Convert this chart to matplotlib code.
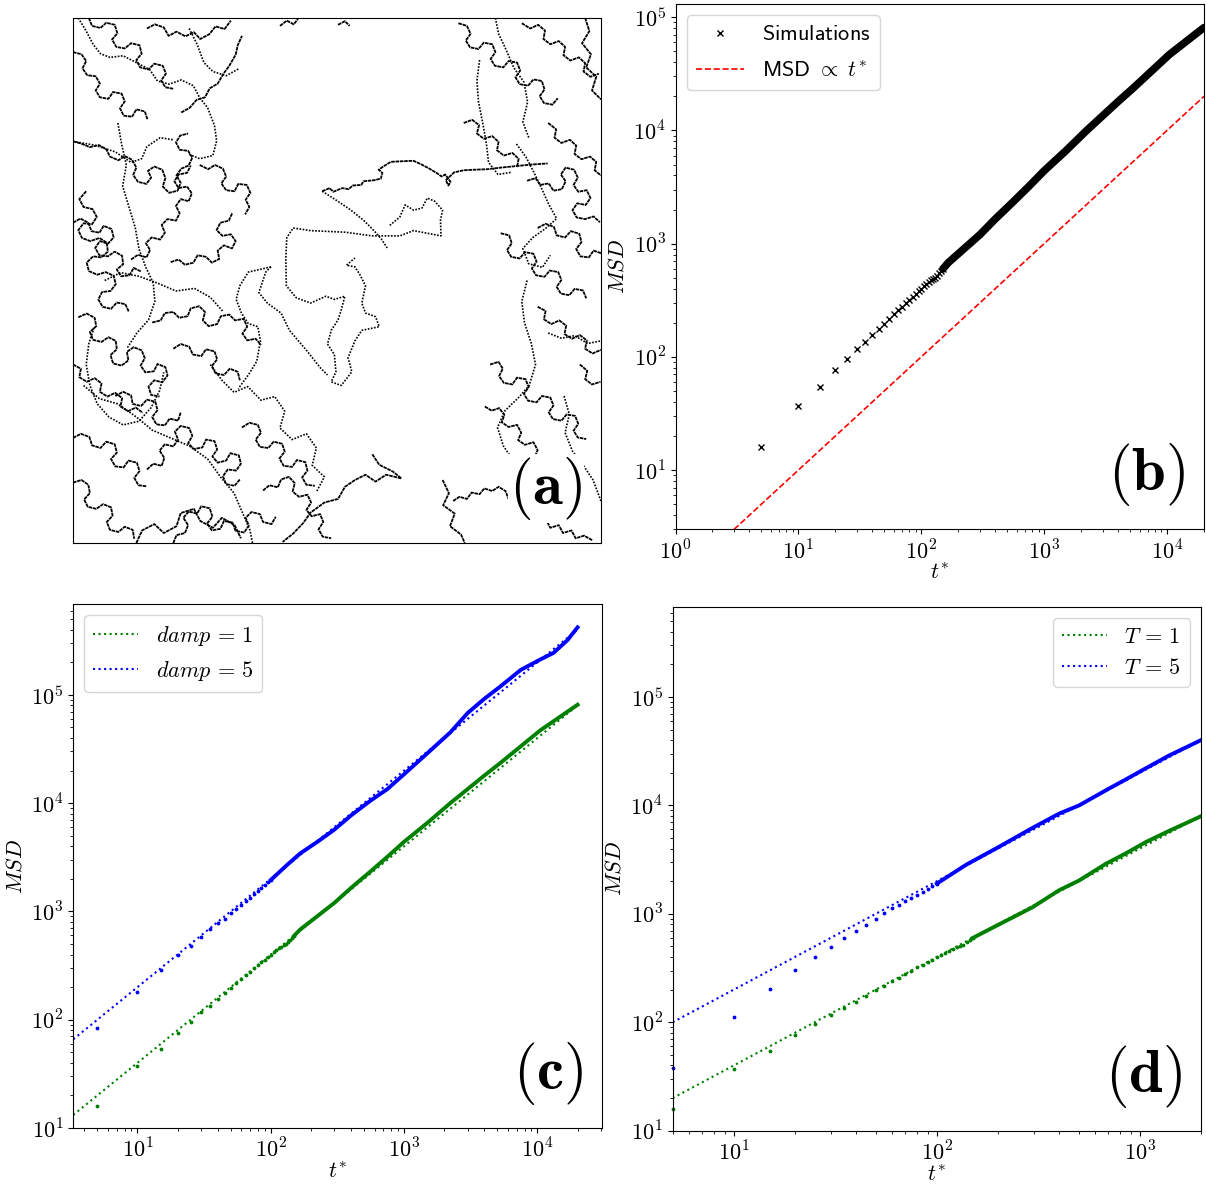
import numpy as np
import matplotlib
matplotlib.use('Agg')
import matplotlib.pyplot as plt
from matplotlib.ticker import FuncFormatter, NullFormatter

plt.rcParams['mathtext.fontset'] = 'cm'

# --- (a) particle trajectories, box units 0..100, y measured from the top ----
# long, smooth stretches (drawn dotted)
smooth_paths = [
    "47.2 33.0 50 34.8 52.5 36.5 55 38.5 57 40.5 58.4 42.1 59.5 43.8",
    "60 39.5 61.9 37.9 62.9 35.6 64.5 36.6 66.1 36.2 67.1 34.3 68.5 34.9 70 36.6 69.6 38.5 "
    "69.7 41.5 67.1 41.0 64.5 40.5 61.9 41.5 56.7 41.5 51.5 40.8 45 40.5 41.7 40.0 40.5 41.8 "
    "40.3 45.7 40.4 51 42.3 53.3 45 54.3 47.9 53 49.5 53.6 51.5 53 50.8 55.6 50.2 57.5 48.9 59.5 "
    "48.2 62.1 49.5 64.1 49.8 67.4 48.9 69.3 50.8 70 52.8 67.4 52.1 64.7 53.4 61.5 54.7 59.5 "
    "58 58.8 57.3 56.9 55.4 56.2 54.7 54.3 55.4 51 54.4 49 53.4 47.4 51.8 47.1 53.4 45.7",
    "37.5 47.4 33.2 48.4 31.6 51 30.9 53.6 31.9 56.2 33.2 58.2 35 58.8 35.5 61.5 34.8 65.4 "
    "33.2 68 31.3 70.6",
    "37.5 47.4 36.5 48.4 35.2 52.3 36.8 54.3 39.4 56.2 41 59.5 44.3 63.4 46.9 66.7 48.2 68",
    "1 0 2.5 2.5 3.8 5 5.2 6.8 7 7.5 9.5 7.2 12 8.5 14.5 9.8 16 12 18.2 12.6 20.5 11.8 22.8 12.9 "
    "24 15.2 25.5 17.1 26.8 20.5 27.2 23.4 26.5 26.2 24 26.8 21.8 25.9",
    "8.5 20 9.2 24 10.1 28 9.4 32 10.6 36 11.8 40 12.5 44 13.8 47.5 15.2 50.5 15.5 54 "
    "14.3 57.5 12.1 60 10.3 62.8",
    "4 59 3 62 2.5 66 3.2 70 4.6 73.5 6.8 76 9.5 77.5 12.5 76.8 14.8 74.2 16.4 71 17.2 67.5",
    "2 70 5 72.5 8.5 73.5 12 76 15 78.5 18.5 80 22 81.5 25.5 84 28 87.5 30.5 90.5 32 94 "
    "33.5 97.5 34 100",
    "77 8 76.5 12 76.8 16 77.6 20 78.3 24 78.7 27.5 80.5 29.8 83 29.4",
    "86 50 85 54 85.5 58 86.8 62 87.6 66 86.4 70 84.2 72.5 81.8 74.8 80.4 78 81.5 81.5 83.2 84",
    "84 24 85.8 26.5 87.3 29.4 88.9 32.8 90.1 35.5 91.6 38.2 89.5 40.1 87.1 41.8 85.2 43.9 "
    "86.3 46.8 88.9 47.5 90.4 45.2",
    "90 60 92.5 61 95 60.5 97.5 62 100 61.5",
    "93 72 94 75.5 93.2 79 94.6 82.5 96.5 85 98.5 88 100 92",
    "22 2 23.5 5 24.8 8.5 26.5 10.2 29 11 31.5 9.6",
    "0 23.5 4 24.2 8 25.5 11 27.5 13 26.8 14 24.5 16.5 22.8 19 23.2",
    "26 66 28.2 69 30.5 71.3 33.1 70.2 35.6 72.8 38.2 72.1 40.1 74.9 39.2 78.1 41.5 80.3 "
    "44.2 79.2 46.1 81.9 45.3 85.2 47.6 87.4 46.2 90.1",
    "80 0 80.6 3 82 6 83.5 9.5 85.4 12.2 86.1 16 85.2 19.8 86.4 23",
    "6 50 9 48.5 12.5 49.2 16 50.5 19.5 52 23 51.5 26 53.2 28.5 56",
]
# knotted, jittery stretches (drawn nearly solid)
knotted_paths = [
    "47.2 33.0 48.6 32.4 49.3 33.1 51 32.4 52.2 32.6 53 31.9 54.6 31.8 55 31.1 57 30.9 58.3 30.6 "
    "58.6 29.5 57.9 28.9 58.9 28.2 60.2 27.4 62 27.3 64.5 27.2 66 27.9 67.5 28.7 69 29.6 69.8 30.2 "
    "70.5 29.8 71.5 31.2 71.1 31.9 70.6 30.9 72.2 29.4 74 29.0 76 28.9 78.5 28.8 81 28.5 "
    "84 28.2 87 27.9 89.9 27.7",
    "56.7 83.1 58 85.1 60.6 86.4 62.2 87.7 59.3 87 57.3 88.3 55.4 87 53.4 88 51.5 89.3 50.2 91.6 "
    "47.6 92.3 45 94.2 43.6 96.2 41.7 98.2 39.7 99.8",
    "39.2 1.5 40.5 0.5 41.8 1.2 42.6 0.2",
    "50.2 1.3 51.5 0.6 52.4 1.5",
    # top-left
    "3 0 3.6 1.5 5.2 1.9 6.3 0.9 7.9 1.3 8.4 2.9 7.4 4.1 8.2 5.5 9.8 5.8 11.0 4.8 12.6 5.2 "
    "13.0 6.8 12.0 8.0 12.7 9.4 14.3 9.8 15.4 8.7 17.0 9.1 17.6 10.6 16.7 11.9 17.5 13.2 19.1 13.5",
    "0 6.5 1.6 6.9 2.5 8.2 1.8 9.6 2.7 10.9 4.3 11.1 5.1 12.5 4.3 13.8 5.1 15.1 6.7 15.4 "
    "7.6 14.1 9.2 14.4 9.8 15.9 8.9 17.2 9.6 18.6 11.2 18.8 12.0 17.4 13.6 17.8 14.1 19.3",
    "14 2 15.5 1.2 17.2 1.8 18.1 3.4 19.6 2.6 21.3 3.5 22.9 2.7 24.1 4.0 25.8 3.1 27.0 1.6 "
    "28.7 2.1 29.9 0.5",
    "20.5 18 22.1 17.1 23.4 15.6 25.0 15.1 25.9 13.4 27.4 12.5 28.5 10.6 29.6 9.1 30.8 7.0 "
    "31.2 5.2 32.0 3.4",
    # left strip
    "0 23.5 1.5 23.9 3.2 24.6 4.9 24.2 6.3 25.0 7.0 26.4 8.6 27.1 9.8 26.3 11.2 27.0 12.0 28.5 "
    "11.4 29.9 12.3 31.2 13.9 31.6 14.8 30.4 14.2 29.1 15.4 28.3 16.9 28.9 17.5 30.5 17.0 32.1 "
    "18.2 33.3 19.8 32.9 20.4 31.4 19.6 30.0 20.5 28.7 21.9 28.1 22.6 26.6 21.8 25.3 20.2 25.1 "
    "19.5 23.7 20.3 22.4 21.8 22.0",
    "2.5 33 1.2 34.5 2.0 36.0 3.7 36.4 4.5 37.9 3.6 39.3 2.0 39.1 1.0 40.4 1.7 41.9 3.3 42.5 "
    "5.0 41.9 6.4 42.8 6.6 44.5 5.4 45.6 3.8 45.4 2.6 46.6 3.0 48.2 4.6 48.9 6.2 48.4 7.7 49.1 "
    "8.1 50.7 7.1 52.0 5.5 52.2 4.8 53.6 5.6 55.0 7.2 55.4 8.3 54.2 9.9 54.5 10.6 56.0",
    "0 39 1.4 38.2 2.9 39.0 3.5 40.6 5.0 40.9 5.8 39.6 7.3 40.2 7.7 41.8 6.6 43.0 5.1 42.5 "
    "4.2 43.8 5.0 45.2 6.6 45.4 7.9 44.5 9.3 45.3 9.5 46.9 8.3 47.9 9.1 49.2 10.7 49.0 "
    "11.5 47.6 12.9 48.3",
    "11 46 12.3 45.1 13.9 45.6 14.6 44.2 13.8 42.9 14.9 41.8 16.5 42.2 17.4 40.9 16.8 39.4 "
    "17.9 38.3 19.5 38.6 20.2 37.2 19.5 35.8 20.4 34.5 21.9 34.9 22.5 33.4 21.6 32.1 20.0 32.4 "
    "19.2 31.1 20.0 29.8 21.6 29.5 22.3 28.1",
    "18.5 46.5 20.0 46.0 21.2 47.0 22.8 46.6 23.6 45.2 25.2 45.5 26.3 46.6 27.7 45.9 27.4 44.3 "
    "28.6 43.3 30.1 43.9 30.8 42.5 29.9 41.2 28.3 41.5 27.2 40.4 27.9 39.0 29.5 38.6 30.2 37.1",
    "24 28 25.6 28.8 26.9 28.0 28.4 28.7 29.0 30.2 28.1 31.5 29.0 32.8 30.6 33.0 31.3 31.6 "
    "32.9 31.8 33.6 33.3 32.7 34.6 33.4 36.0 32.6 37.4",
    "1 57 2.6 56.3 4.1 57.1 4.4 58.7 3.2 59.8 3.8 61.3 5.4 61.7 6.7 60.8 8.1 61.5 8.3 63.1 "
    "7.1 64.2 7.6 65.8 9.2 66.2 10.5 65.2 10.2 63.6 11.5 62.7 13.0 63.3 13.6 64.8 12.8 66.2 "
    "13.7 67.5 15.3 67.3 16.0 65.9 17.5 66.5 17.9 68.1 16.9 69.4 15.4 69.0 14.3 70.2 14.8 71.8 "
    "16.4 72.1",
    "15 58 16.6 57.6 17.4 56.2 19.0 56.0 20.1 57.1 21.7 56.8 22.3 55.3 23.9 54.9 25.0 56.0 "
    "24.6 57.6 25.7 58.7 27.3 58.3 28.0 56.8 29.6 56.5 30.7 57.6 32.3 57.3 33.0 58.8 32.1 60.1 "
    "33.0 61.4 34.6 61.1 35.6 62.3",
    "0 66 1.5 66.8 1.2 68.4 2.6 69.3 4.1 68.6 5.4 69.6 5.1 71.2 6.5 72.1 8.0 71.4 9.3 72.4 "
    "9.0 74.0 10.4 74.9 11.9 74.2 13.2 75.2",
    "19 63 20.4 62.1 22.0 62.6 22.7 64.1 24.3 64.4 25.2 63.1 26.8 63.5 27.3 65.0 26.3 66.3 "
    "27.0 67.7 28.6 68.0 29.7 66.8 31.2 67.4 31.6 69.0",
    # bottom-left
    "14 86 15.2 84.9 16.8 85.3 17.3 83.8 16.4 82.4 17.4 81.2 19.0 81.6 19.9 80.3 19.3 78.8 "
    "20.4 77.7 22.0 78.1 22.6 79.6 21.8 81.0 22.9 82.1 24.5 81.8 25.2 80.3 26.8 80.6 27.3 82.2 "
    "26.4 83.5 27.4 84.7 29.0 84.3 29.8 82.9 31.4 83.3 31.8 84.9 30.9 86.2 29.3 86.0 28.4 87.3 "
    "29.0 88.8 30.6 89.1 31.6 87.9",
    "19 100 19.6 98.5 21.2 98.1 21.8 96.6 20.9 95.2 21.9 94.0 23.5 94.4 24.3 93.0 25.9 93.4 "
    "26.4 95.0 25.4 96.3 26.3 97.6 27.9 97.3 28.6 95.8 30.2 96.1 30.8 97.7 32.4 98.0 33.3 96.7 "
    "32.7 95.2 33.8 94.1 35.4 94.5 36.0 96.0 37.6 96.4 38.4 95.0",
    "0 88.5 1.6 88.0 2.9 88.9 3.2 90.5 2.1 91.7 2.8 93.1 4.4 93.5 5.7 92.6 7.2 93.2 7.5 94.8 "
    "6.4 96.0 7.0 97.5 8.6 97.9 9.8 96.9 11.3 97.5 11.6 99.2",
    "0 80 1.5 79.2 3.1 79.8 3.6 81.4 5.2 81.9 6.3 80.7 7.9 81.2 8.3 82.8 7.2 84.0 8.0 85.4 "
    "9.6 85.6 10.5 84.3 12.1 84.7 12.6 86.3 11.6 87.6 12.4 89.0 14.0 89.2",
    "8 72 9.5 71.2 11.0 71.9 11.3 73.5 12.9 73.9 14.0 72.7 15.6 73.1 16.0 74.7 15.0 76.0 "
    "15.8 77.4 17.4 77.6 18.3 76.3 19.9 76.7 20.4 75.1",
    "32 78 33.4 77.1 35.0 77.5 35.6 79.0 34.6 80.3 35.4 81.7 37.0 81.9 38.0 80.7 39.6 81.1 "
    "40.1 82.6 39.1 83.9 39.9 85.3 41.5 85.5 42.4 84.2 44.0 84.6 44.4 86.2 43.4 87.5 44.2 88.9 "
    "45.8 89.1",
    "36 90 37.2 89.0 38.8 89.4 39.4 87.9 40.9 87.4 42.0 88.6 41.6 90.2 42.8 91.2 44.4 90.8 "
    "45.1 92.3 44.2 93.7 45.2 94.9 46.8 94.5 47.4 96.0 46.5 97.4 47.3 98.8 48.9 99.1",
    "12 100 13.1 97.6 15.4 96.4 17.2 98.1 19.6 96.8 20.4 94.3 22.9 93.5 24.1 95.8 26.5 97.1 "
    "28.2 95.2 30.6 96.6 31.8 99.1",
    # right strip
    "73 1 74.6 1.5 75.3 3.0 74.4 4.3 75.2 5.6 76.8 5.9 77.8 4.7 79.4 5.0 80.0 6.5 79.1 7.8 "
    "79.9 9.1 81.5 9.4 82.5 8.2 84.1 8.5 84.7 10.0 83.8 11.3 84.6 12.6 86.2 12.9 87.2 11.7 "
    "88.8 12.0 89.3 13.6 88.4 14.9 89.2 16.2 90.8 16.5 91.8 15.3",
    "85 1 86.6 2.0 88.1 1.3 89.4 2.4 89.1 4.0 90.4 5.0 92.0 4.4 93.2 5.5 92.9 7.1 94.2 8.1 "
    "95.8 7.5 97.0 8.6 96.7 10.2 98.0 11.2 99.6 10.6",
    "97 0 97.8 2.5 96.4 4.8 98.1 6.9 97.2 9.4 99.1 11.2 98.3 13.8 100 15.5",
    "74 20 75.6 19.4 76.9 20.4 76.5 22.0 77.8 23.0 79.4 22.5 80.6 23.6 80.3 25.2 81.6 26.2 "
    "83.2 25.7 84.4 26.8 84.1 28.4",
    "86 31 87.6 30.5 88.5 31.8 90.1 31.5 91.0 32.9 92.6 32.6 93.3 31.1 92.4 29.8 93.3 28.5 "
    "94.9 28.9 95.6 30.4 94.8 31.8 95.7 33.1 97.3 32.8 98.0 34.3 97.1 35.6 95.5 35.3 94.6 36.6 "
    "95.4 38.0 97.0 38.3 98.6 37.8 99.8 38.9",
    "90 20 91.5 21.2 91.2 22.8 92.5 23.8 94.1 23.2 95.3 24.3 95.0 25.9 96.3 26.9 97.9 26.4 "
    "99.1 27.4 98.8 29.0 100 30",
    "81 41 82.6 41.4 83.1 42.9 82.2 44.2 83.0 45.5 84.6 45.8 85.6 44.6 87.2 44.9 87.8 46.4 "
    "86.9 47.7 87.7 49.0 89.3 49.3 90.3 48.1 91.9 48.4 92.5 49.9 91.6 51.2 92.4 52.5 94.0 52.8 "
    "95.0 51.6 96.6 51.9 97.2 53.4",
    "88 40 89.5 39.2 91.1 39.8 91.6 41.4 93.2 41.8 94.3 40.6 95.9 41.1 96.3 42.7 95.3 44.0 "
    "96.1 45.4 97.7 45.6 98.6 44.3 100 44.8",
    "79 66 80.6 65.5 81.4 66.8 80.7 68.2 81.6 69.5 83.2 69.8 84.1 68.5 85.7 68.8 86.3 70.3 "
    "85.4 71.6 86.2 72.9 87.8 73.2 88.8 72.0 90.4 72.3 91.0 73.8 90.1 75.1 90.9 76.4 92.5 76.7 "
    "93.5 75.5 95.1 75.8 95.7 77.3 94.8 78.6 95.6 79.9 97.2 80.2",
    "88 55 89.5 55.8 89.2 57.4 90.6 58.3 92.1 57.6 93.4 58.6 93.1 60.2 94.5 61.1 96.0 60.4 "
    "97.3 61.4 97.0 63.0 98.4 63.9 100 63.2",
    "78 74 79.3 74.8 80.7 74.3 81.7 75.6 81.2 77.0 82.5 77.9 84.1 77.5 84.9 79.0 84.3 80.4 "
    "85.6 81.3 87.2 80.8 88.0 82.3 87.4 83.7 88.7 84.7 90.3 84.2 91.1 85.7 92.7 85.2",
    "72 92 73.2 91.2 74.6 91.6 75.5 90.4 77.0 90.7 77.9 89.6 79.4 90.1 80.6 89.3 81.9 90.1 "
    "82.5 91.6 84.1 91.2 84.9 92.7 86.5 92.2 87.3 93.7 86.7 95.1 88.0 96.0 89.6 95.6 90.4 97.1 "
    "92.0 96.6 92.8 98.1 94.4 97.6 95.2 99.1 96.8 98.6 98.4 99.5",
    "70 88 71.2 90.5 70.1 92.8 72.3 94.4 71.4 96.8 73.5 98.4 74.2 100",
    "96 66 97.4 67.2 97.0 68.8 98.3 69.8 99.9 69.3",
]

# --- MSD data ----------------------------------------------------------------
t_early = [5, 10, 15, 20, 25, 30, 35, 40, 45, 50, 55, 60, 65, 70, 75, 80, 85, 90, 95, 100]
msd_damp1_early = [16, 37, 54, 76, 96, 117, 134, 155, 175, 197,
                   218, 240, 258, 278, 300, 320, 340, 358, 378, 400]
msd_damp5_early = [83, 182, 285, 394, 480, 575, 684, 780, 855, 975,
                   1060, 1135, 1240, 1340, 1450, 1560, 1660, 1760, 1850, 1950]
msd_T5_early = [37.5, 113, 203, 304, 398, 495, 600, 695, 795, 900,
                1025, 1120, 1200, 1300, 1400, 1500, 1600, 1700, 1800, 1900]

t_mid = [105, 110, 115, 120, 125, 130, 135, 140, 145, 150]
msd_damp1_mid = [420, 438, 456, 474, 490, 502, 520, 545, 570, 598]

t_late = [150, 166, 230, 300, 400, 557, 750, 1000, 1500, 2220, 3000, 4000,
          5250, 7500, 10500, 13200, 16800, 20000]
msd_damp1_late = [598, 680, 930, 1200, 1650, 2330, 3200, 4400, 6600, 10000, 13500,
                  18000, 23400, 33500, 47000, 57000, 70000, 81000]
t_late5 = [100, 133, 166, 230, 300, 400, 557, 750, 1000, 1500, 2220, 3000, 4000,
           5250, 7500, 10500, 13200, 16800, 20000]
msd_damp5_late = [1950, 2700, 3430, 4500, 5700, 7700, 10500, 13500, 18500, 29000, 45000,
                  68000, 92000, 119000, 170000, 212000, 244000, 320000, 420000]

t_late_T1 = [150, 200, 296, 400, 502, 681, 850, 1070, 1400, 1700, 2000]
msd_T1_late = [598, 790, 1150, 1650, 2030, 2900, 3600, 4590, 5850, 6900, 7950]
t_late_T5 = [100, 140, 200, 296, 400, 502, 681, 850, 1070, 1400, 1700, 2000]
msd_T5_late = [1900, 2850, 4100, 6200, 8400, 10000, 13800, 17300, 22000, 29000, 34500, 40000]

# slopes of the linear (MSD ~ D t) guide lines
D_ref = 1
D_1 = 4
D_5 = 20

W, H = 1206, 1184
fig = plt.figure(figsize=(W / 100, H / 100), dpi=100)


def box(l, t, r, b):  # pixel box -> figure fraction
    return [l / W, 1 - b / H, (r - l) / W, (b - t) / H]


def decades(v, pos):
    return r'$10^{%d}$' % int(round(np.log10(v)))


def style_log(ax):
    ax.set_xscale('log')
    ax.set_yscale('log')
    for a in (ax.xaxis, ax.yaxis):
        a.set_major_formatter(FuncFormatter(decades))
        a.set_minor_formatter(NullFormatter())
    ax.tick_params(labelsize=16)
    ax.set_xlabel(r'$t^{*}$', fontsize=16, labelpad=0)
    ax.set_ylabel(r'$MSD$', fontsize=16, labelpad=4)


def tag(ax, s):
    ax.text(0.965, 0.04, r'$\mathbf{(%s)}$' % s, transform=ax.transAxes,
            ha='right', va='bottom', fontsize=44, zorder=10,
            bbox=dict(facecolor='white', edgecolor='none', pad=1))


# (a) trajectories ############################################################
ax = fig.add_axes(box(73, 18, 601, 543))
for s in smooth_paths:
    p = np.array(s.split(), float).reshape(-1, 2)
    ax.plot(p[:, 0], p[:, 1], color='black', lw=1.2, ls=(0, (1, 0.9)))
for s in knotted_paths:
    p = np.array(s.split(), float).reshape(-1, 2)
    ax.plot(p[:, 0], p[:, 1], color='black', lw=1.3, ls=(0, (2, 0.4)))
ax.set_xlim(0, 100)
ax.set_ylim(100, 0)
ax.set_xticks([])
ax.set_yticks([])
tag(ax, 'a')

# (b) MSD of the reference run ################################################
ax = fig.add_axes(box(675.5, 4.3, 1204, 529.3))
style_log(ax)
t_ref = np.array([1, 20000])
ax.plot(t_early + t_mid, msd_damp1_early + msd_damp1_mid, 'kx', ms=5, mew=1,
        label=r'$\mathsf{Simulations}$')
ax.plot(t_late, msd_damp1_late, '-', color='black', lw=5.5, solid_capstyle='round')
ax.plot(t_ref, D_ref * t_ref, 'r--', lw=1.2, label=r'$\mathsf{MSD}\ \propto\ t^{*}$')
ax.set_xlim(1, 20000)
ax.set_ylim(3, 1.3e5)
ax.legend(loc='upper left', fontsize=16, handlelength=2.2, labelspacing=0.75)
tag(ax, 'b')

# (c) damping ##################################################################
ax = fig.add_axes(box(73.3, 604, 602, 1128))
style_log(ax)
t_fit = np.array([3.3, 20000])
ax.plot(t_fit, D_1 * t_fit, ':', color='green', lw=1.5, label=r'$damp\,=\,1$')
ax.plot(t_fit, D_5 * t_fit, ':', color='blue', lw=1.5, label=r'$damp\,=\,5$')
ax.plot(t_early + t_mid, msd_damp1_early + msd_damp1_mid, '.', color='green', ms=3.5)
ax.plot(t_late, msd_damp1_late, '-', color='green', lw=2.8)
ax.plot(t_early, msd_damp5_early, '.', color='blue', ms=3.5)
ax.plot(t_late5, msd_damp5_late, '-', color='blue', lw=2.8)
ax.set_xlim(3.3, 3.05e4)
ax.set_ylim(10, 6.9e5)
ax.legend(loc='upper left', fontsize=16)
tag(ax, 'c')

# (d) temperature ##############################################################
ax = fig.add_axes(box(672.7, 606.7, 1201, 1130.7))
style_log(ax)
t_fit = np.array([5, 2000])
ax.plot(t_fit, D_1 * t_fit, ':', color='green', lw=1.5, label=r'$T\,=\,1$')
ax.plot(t_fit, D_5 * t_fit, ':', color='blue', lw=1.5, label=r'$T\,=\,5$')
ax.plot(t_early + t_mid, msd_damp1_early + msd_damp1_mid, '.', color='green', ms=3.5,
        clip_on=False)
ax.plot(t_late_T1, msd_T1_late, '-', color='green', lw=2.8)
ax.plot(t_early, msd_T5_early, '.', color='blue', ms=3.5, clip_on=False)
ax.plot(t_late_T5, msd_T5_late, '-', color='blue', lw=2.8)
ax.set_xlim(5, 2000)
ax.set_ylim(10, 6.8e5)
ax.legend(loc='upper right', fontsize=16)
tag(ax, 'd')

fig.savefig('out.png', dpi=100)
